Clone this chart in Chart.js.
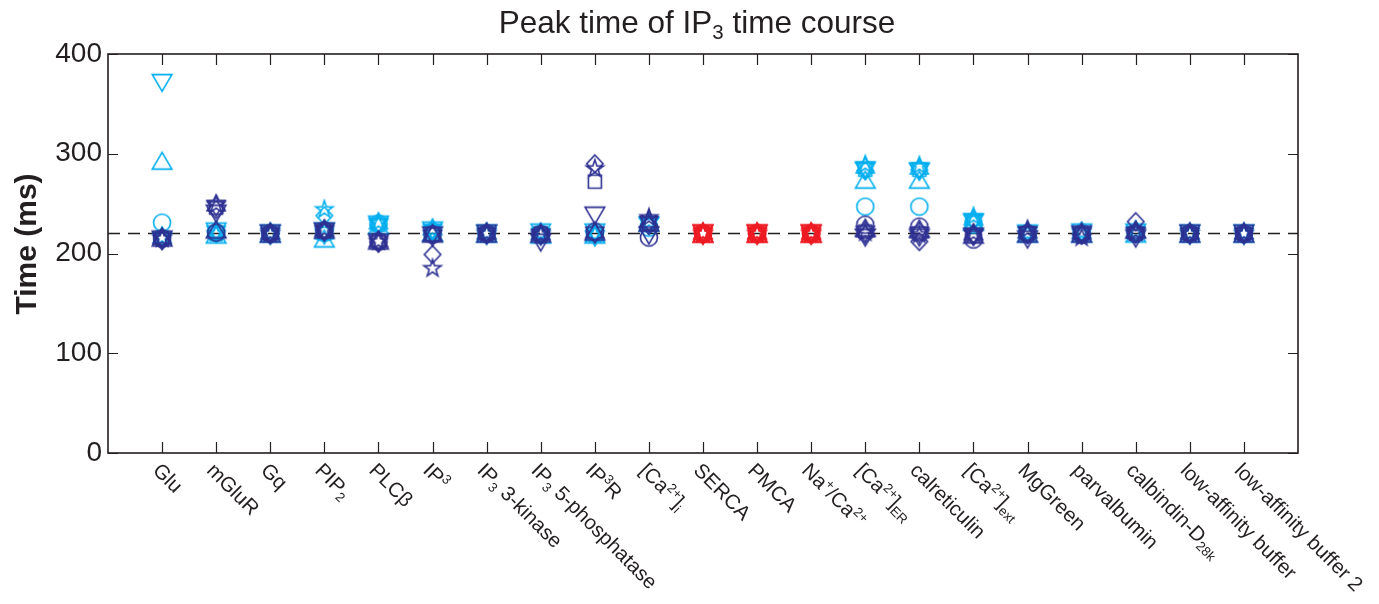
<!DOCTYPE html>
<html>
<head>
<meta charset="utf-8">
<script src="https://cdn.jsdelivr.net/npm/chart.js@4.4.1/dist/chart.umd.min.js"></script>
<style>
  html, body { margin: 0; padding: 0; background: #fff; }
  #wrap { width: 1379px; height: 604px; }
</style>
</head>
<body>
<div id="wrap"><canvas id="c" width="1379" height="604"></canvas></div>
<script>
// Categories (markup: ^{..} superscript, _{..} subscript)
const categories = [
  'Glu', 'mGluR', 'Gq', 'PIP_{2}', 'PLCβ', 'IP^{3}', 'IP_{3} 3-kinase',
  'IP_{3} 5-phosphatase', 'IP^{3}R', '[Ca^{2+}]_{i}', 'SERCA', 'PMCA',
  'Na^{+}/Ca^{2+}', '[Ca^{2+}]_{ER}', 'calreticulin', '[Ca^{2+}]_{ext}',
  'MgGreen', 'parvalbumin', 'calbindin-D_{28k}', 'low-affinity buffer',
  'low-affinity buffer 2'
];
const pumpCategories = ['SERCA', 'PMCA', 'Na^{+}/Ca^{2+}'];

// Peak times (ms), increased parameter (light) and decreased parameter (dark)
const upCircle   = [231, 221, 220, 221, 230, 222, 220, 220, 220, 226, 220, 220, 220, 247, 247, 229, 220, 221, 221, 220, 220];
const upTriUp    = [293, 219, 220, 215, 228, 221, 220, 219, 219, 231, 220, 220, 220, 274, 274, 232, 220, 220, 220, 220, 220];
const upTriDown  = [371, 222, 220, 222, 229, 223, 220, 221, 221, 228, 220, 220, 220, 283, 282, 231, 220, 221, 221, 220, 220];
const upSquare   = [216, 220, 220, 220, 229, 222, 220, 220, 220, 229, 220, 220, 220, 284, 284, 232, 220, 220, 220, 220, 220];
const upDiamond  = [216, 220, 220, 238, 229, 223, 220, 220, 220, 230, 220, 220, 220, 283, 284, 233, 220, 220, 221, 220, 220];
const upPenta    = [216, 220, 220, 244, 231, 224, 220, 220, 219, 232, 220, 220, 220, 289, 288, 237, 220, 221, 222, 220, 220];
const upHexa     = [216, 222, 220, 220, 230, 224, 220, 220, 218, 231, 220, 220, 220, 286, 285, 234, 221, 221, 222, 220, 220];

const downCircle  = [215, 221, 220, 223, 212, 219, 220, 219, 222, 216, 220, 220, 220, 229, 227, 214, 220, 219, 220, 220, 220];
const downTriUp   = [216, 224, 220, 224, 213, 220, 220, 220, 222, 231, 220, 220, 220, 226, 225, 219, 220, 220, 224, 220, 220];
const downTriDown = [214, 240, 220, 222, 211, 218, 220, 211, 238, 218, 220, 220, 220, 216, 216, 217, 214, 219, 215, 220, 220];
const downSquare  = [215, 246, 220, 223, 212, 219, 220, 220, 272, 230, 220, 220, 220, 222, 220, 218, 220, 220, 220, 220, 220];
const downDiamond = [213, 244, 220, 223, 211, 199, 220, 219, 290, 228, 220, 220, 220, 219, 212, 219, 219, 219, 232, 220, 220];
const downPenta   = [215, 249, 220, 224, 212, 185, 220, 219, 285, 236, 220, 220, 220, 221, 219, 220, 224, 216, 222, 220, 220];
const downHexa    = [215, 248, 220, 223, 212, 218, 220, 219, 221, 232, 220, 220, 220, 222, 221, 219, 221, 220, 221, 220, 220];

const controlTime = 220;
const yTicks = [0, 100, 200, 300, 400];

const FONT = "'Liberation Sans', Arial, Helvetica, sans-serif";
const INK = '#231f20';
const LIGHT = '#00aeef';
const DARK = '#2e3192';
const RED = '#ed1c24';

// Marker glyphs (outlined, drawn once per shape/colour)
const iconCache = {};
function icon(shape, color) {
  const key = shape + color;
  if (iconCache[key]) return iconCache[key];
  const s = 26, m = s / 2;
  const c = document.createElement('canvas');
  c.width = s; c.height = s;
  const g = c.getContext('2d');
  g.strokeStyle = color;
  g.lineWidth = 1.6;
  g.lineJoin = 'miter';
  g.beginPath();
  const star = (n, R, r) => {
    for (let k = 0; k < 2 * n; k++) {
      const a = -Math.PI / 2 + k * Math.PI / n;
      const rad = k % 2 ? r : R;
      const px = m + rad * Math.cos(a), py = m + rad * Math.sin(a);
      k ? g.lineTo(px, py) : g.moveTo(px, py);
    }
    g.closePath();
  };
  switch (shape) {
    case 'circle': g.arc(m, m, 8.5, 0, Math.PI * 2); break;
    case 'up':
      g.moveTo(m, m - 8.4); g.lineTo(m + 9.8, m + 8.4); g.lineTo(m - 9.8, m + 8.4); g.closePath(); break;
    case 'down':
      g.moveTo(m, m + 8.4); g.lineTo(m + 9.8, m - 8.4); g.lineTo(m - 9.8, m - 8.4); g.closePath(); break;
    case 'square': g.rect(m - 6.5, m - 6.5, 13, 13); break;
    case 'diamond':
      g.moveTo(m, m - 8.8); g.lineTo(m + 8.2, m); g.lineTo(m, m + 8.8); g.lineTo(m - 8.2, m); g.closePath(); break;
    case 'penta': star(5, 9, 3.5); break;
    case 'hexa': star(6, 10.4, 6); break;
  }
  g.stroke();
  iconCache[key] = c;
  return c;
}

const pumpIdx = pumpCategories.map(l => categories.indexOf(l));
function series(values, shape, color) {
  return {
    type: 'scatter',
    data: values.map((v, i) => ({ x: i + 1, y: v })),
    pointStyle: ctx => icon(shape, pumpIdx.includes(ctx.dataIndex) ? RED : color),
    pointRadius: 9,
    pointHoverRadius: 9
  };
}

const datasets = [
  series(downCircle, 'circle', DARK),
  series(downTriUp, 'up', DARK),
  series(downTriDown, 'down', DARK),
  series(downSquare, 'square', DARK),
  series(downDiamond, 'diamond', DARK),
  series(downPenta, 'penta', DARK),
  series(downHexa, 'hexa', DARK),
  series(upCircle, 'circle', LIGHT),
  series(upTriUp, 'up', LIGHT),
  series(upTriDown, 'down', LIGHT),
  series(upSquare, 'square', LIGHT),
  series(upDiamond, 'diamond', LIGHT),
  series(upPenta, 'penta', LIGHT),
  series(upHexa, 'hexa', LIGHT),
  {
    type: 'line',
    data: [{ x: 0, y: controlTime }, { x: categories.length + 1, y: controlTime }],
    borderColor: INK,
    borderWidth: 1.4,
    borderDash: [12, 8],
    pointRadius: 0,
    order: 10
  }
];

function parseRich(str) {
  const out = [];
  const re = /([_^])\{([^}]*)\}/g;
  let last = 0, mt;
  while ((mt = re.exec(str))) {
    if (mt.index > last) out.push({ t: str.slice(last, mt.index), mode: 0 });
    out.push({ t: mt[2], mode: mt[1] === '^' ? 1 : -1 });
    last = re.lastIndex;
  }
  if (last < str.length) out.push({ t: str.slice(last), mode: 0 });
  return out;
}
function richWidth(ctx, segs, size, weight) {
  let w = 0;
  for (const s of segs) {
    ctx.font = `${weight} ${s.mode ? size * 0.65 : size}px ${FONT}`;
    w += ctx.measureText(s.t).width;
  }
  return w;
}
function drawRich(ctx, segs, x, y, size, weight) {
  let cx = x;
  for (const s of segs) {
    const fs = s.mode ? size * 0.65 : size;
    ctx.font = `${weight} ${fs}px ${FONT}`;
    const dy = s.mode === 1 ? -size * 0.36 : s.mode === -1 ? size * 0.2 : 0;
    ctx.fillText(s.t, cx, y + dy);
    cx += ctx.measureText(s.t).width;
  }
}

const framePlugin = {
  id: 'frame',
  afterDraw(chart) {
    const { ctx, chartArea: a, scales: { x, y } } = chart;
    ctx.save();
    // box
    ctx.strokeStyle = INK;
    ctx.lineWidth = 1.6;
    ctx.strokeRect(a.left, a.top, a.right - a.left, a.bottom - a.top);
    // inward ticks
    ctx.lineWidth = 1.2;
    ctx.beginPath();
    categories.forEach((_, i) => {
      const px = Math.round(x.getPixelForValue(i + 1)) + 0.5;
      ctx.moveTo(px, a.bottom); ctx.lineTo(px, a.bottom - 11);
      ctx.moveTo(px, a.top); ctx.lineTo(px, a.top + 11);
    });
    yTicks.forEach(v => {
      const py = Math.round(y.getPixelForValue(v)) + 0.5;
      ctx.moveTo(a.left, py); ctx.lineTo(a.left + 10, py);
      ctx.moveTo(a.right, py); ctx.lineTo(a.right - 10, py);
    });
    ctx.stroke();

    // category labels, rotated
    ctx.fillStyle = INK;
    ctx.textBaseline = 'alphabetic';
    ctx.textAlign = 'left';
    const fs = 20.5;
    categories.forEach((lab, i) => {
      const px = x.getPixelForValue(i + 1);
      ctx.save();
      ctx.translate(px, a.bottom + 8);
      ctx.rotate(Math.PI / 4);
      drawRich(ctx, parseRich(lab), 0, fs * 0.72, fs, 'normal');
      ctx.restore();
    });

    // title
    const tSegs = parseRich('Peak time of IP_{3} time course');
    const tfs = 31.5;
    const tw = richWidth(ctx, tSegs, tfs, 'normal');
    drawRich(ctx, tSegs, 697 - tw / 2, 33, tfs, 'normal');

    // y-axis title
    ctx.save();
    ctx.translate(36, 244);
    ctx.rotate(-Math.PI / 2);
    ctx.textAlign = 'center';
    ctx.font = `bold 30px ${FONT}`;
    ctx.fillText('Time (ms)', 0, 0);
    ctx.restore();
    ctx.restore();
  }
};

new Chart(document.getElementById('c'), {
  data: { datasets },
  options: {
    responsive: false,
    devicePixelRatio: 1,
    animation: false,
    events: [],
    layout: { padding: { top: 54, bottom: 151, left: 0, right: 81 } },
    plugins: { legend: { display: false }, tooltip: { enabled: false }, title: { display: false } },
    scales: {
      x: {
        type: 'linear', min: 0, max: categories.length + 1,
        display: false
      },
      y: {
        type: 'linear', min: 0, max: 400,
        afterFit(s) { s.width = 108; },
        afterBuildTicks(s) { s.ticks = yTicks.map(v => ({ value: v })); },
        grid: { display: false, drawTicks: false },
        border: { display: false },
        ticks: { padding: 6, color: INK, font: { family: FONT, size: 28 } }
      }
    }
  },
  plugins: [framePlugin]
});
</script>
</body>
</html>
